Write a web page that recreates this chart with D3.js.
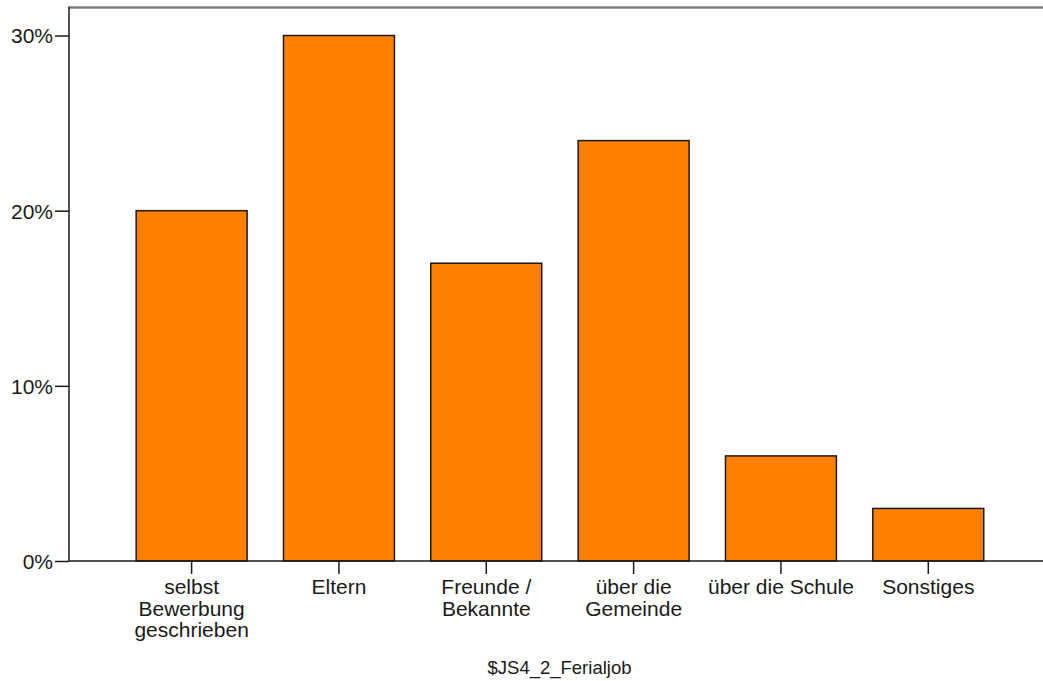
<!DOCTYPE html>
<html><head><meta charset="utf-8">
<script src="https://cdn.jsdelivr.net/npm/d3@7"></script>
<style>
html,body{margin:0;padding:0;background:#fff;}
svg{display:block;}
text{font-family:"Liberation Sans",Arial,sans-serif;fill:#1a1a1a;}
</style></head>
<body><svg id="c" width="1043" height="681"></svg>
<script>
const categories = [["selbst","Bewerbung","geschrieben"],["Eltern"],["Freunde /","Bekannte"],["über die","Gemeinde"],["über die Schule"],["Sonstiges"]];
const values = [0.20, 0.30, 0.17, 0.24, 0.06, 0.03];
const yTicks = [0, 0.1, 0.2, 0.3];
const xTitle = "$JS4_2_Ferialjob";

(function(){
const svg = d3.select("#c");
const mLeft = 69, mRight = 1043, mTop = 7.5, mBottom = 561;
const idx = categories.map((d,i)=>i);
const x = d3.scaleBand().domain(idx).range([117.95, 1001.95]).paddingInner(0.247).paddingOuter(0.1235);
const y = d3.scaleLinear().domain([0, 0.316]).range([mBottom, mTop]);

// top frame line
svg.append("line").attr("x1", mLeft).attr("x2", mRight).attr("y1", mTop).attr("y2", mTop)
  .attr("stroke", "#808080").attr("stroke-width", 2.5);

// bars
svg.append("g").selectAll("rect").data(values).join("rect")
  .attr("x", (d,i)=>x(i)).attr("width", x.bandwidth())
  .attr("y", d=>y(d)).attr("height", d=>mBottom - y(d))
  .attr("fill", "#ff8000").attr("stroke", "#1a1a1a").attr("stroke-width", 1.5);

// y axis
const ya = svg.append("g").attr("transform", `translate(${mLeft},0)`)
  .call(d3.axisLeft(y).tickValues(yTicks).tickFormat(d3.format(".0%")).tickSize(14).tickSizeOuter(0).tickPadding(2));
ya.select(".domain").remove();
ya.selectAll(".tick line").attr("stroke", "#1a1a1a").attr("stroke-width", 1.5);
ya.selectAll(".tick text").attr("font-size", 21).attr("dy", "0.35em").style("font-family", "Liberation Sans, Arial, sans-serif").attr("fill", "#1a1a1a");
svg.append("line").attr("x1", mLeft).attr("x2", mLeft).attr("y1", mTop - 1).attr("y2", mBottom)
  .attr("stroke", "#1a1a1a").attr("stroke-width", 1.5);

// x axis
const xa = svg.append("g").attr("transform", `translate(0,${mBottom})`)
  .call(d3.axisBottom(x).tickSize(13).tickSizeOuter(0).tickFormat(()=>""));
xa.select(".domain").remove();
xa.selectAll(".tick line").attr("stroke", "#1a1a1a").attr("stroke-width", 1.5);
xa.selectAll(".tick text").remove();
xa.selectAll(".tick").each(function(d){
  const t = d3.select(this).append("text").attr("text-anchor", "middle").attr("font-size", 21).attr("fill", "#1a1a1a")
    .style("font-family", "Liberation Sans, Arial, sans-serif");
  categories[d].forEach((line, j)=>{
    t.append("tspan").attr("x", 0).attr("y", 33 + j*21.5).text(line);
  });
});
svg.append("line").attr("x1", mLeft).attr("x2", mRight).attr("y1", mBottom).attr("y2", mBottom)
  .attr("stroke", "#1a1a1a").attr("stroke-width", 1.5);

// x title
svg.append("text").attr("x", 559.5).attr("y", 674).attr("text-anchor", "middle")
  .attr("font-size", 18.5).text(xTitle);
})();
</script></body></html>
